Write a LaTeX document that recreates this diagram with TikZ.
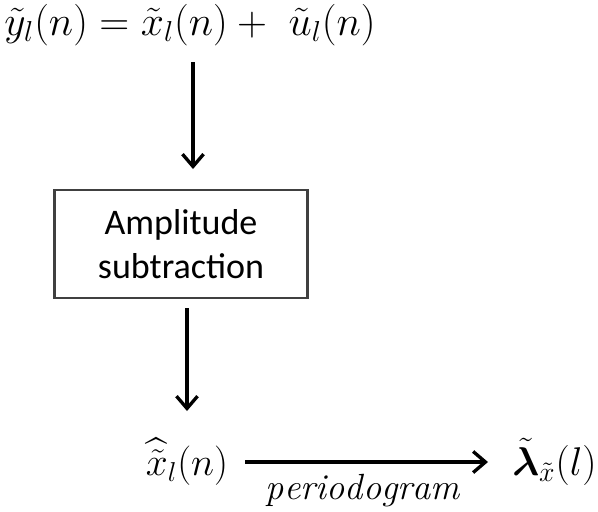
\documentclass[tikz,border=0pt]{standalone}
\usepackage{amsmath,amssymb}
\usepackage{graphicx}
\usepackage{fontspec}
\usepackage{tikz}
\usetikzlibrary{arrows.meta,positioning}
\newfontfamily\boxfont{Carlito}
\definecolor{Frame}{HTML}{404040}
\tikzset{
  procbox/.style={draw=Frame, line width=1.2pt, minimum width=5.06cm,
    minimum height=2.16cm, align=center, font=\boxfont\fontsize{20.5}{25}\selectfont},
  sig/.style={inner sep=0pt, font=\fontsize{20.74}{25}\selectfont},
  flowarr/.style={-{Straight Barb[length=7pt,width=12pt,line width=1.9pt]}, line width=1.9pt},
}
\begin{document}
\begin{tikzpicture}[x=0.02cm, y=-0.02cm]
  \useasboundingbox (0,0) rectangle (598,511);
  % input signal
  \node[sig] (obs) at (190,25)
    {\scalebox{1.14}{$\tilde{y}_l(n) = \tilde{x}_l(n) + \ \tilde{u}_l(n)$}};
  \coordinate (obsout) at (193,62);
  \node[procbox] (amp) at (181,244) {Amplitude\\subtraction};
  \coordinate (ampout) at (187,308);
  % periodogram stage
  \node[sig] (est) at (187,462) {\scalebox{1.08}{$\widehat{\tilde{x}}_l(n)$}};
  \node[sig, anchor=east] (spec) at (597,462)
    {\scalebox{1.1}{$\tilde{\boldsymbol{\lambda}}_{\tilde{x}}(l)$}};
  \coordinate (estout) at (245,462);
  \coordinate (specin) at (488,462);

  \draw[flowarr] (obsout) -- ++(0,107);
  \draw[flowarr] (ampout) -- ++(0,103);
  \draw[flowarr] (estout) -- (specin);
  \node[sig] (lbl) at (363,491) {$\mathit{periodogram}$};
\end{tikzpicture}
\end{document}
